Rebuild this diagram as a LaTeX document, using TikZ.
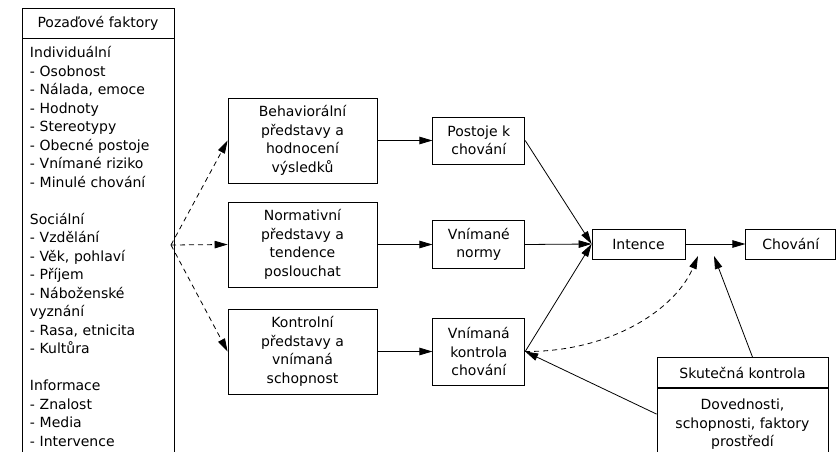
\documentclass[tikz,border=0pt]{standalone}
\usepackage{fontspec}
\setmainfont{DejaVu Sans}
\usetikzlibrary{arrows.meta,positioning}

\begin{document}
\begin{tikzpicture}[
    x=1pt, y=-1pt,
    font=\fontsize{14}{18.5}\selectfont,
    box/.style={draw, line width=0.8pt, align=center, inner sep=2pt},
    arr/.style={-{Triangle[length=13pt,width=7.5pt]}, line width=0.8pt},
    darr/.style={arr, dash pattern=on 5pt off 4pt}
  ]
  \useasboundingbox (0,0) rectangle (839,452);
  % background factors
  \node[box, minimum width=152pt, minimum height=30pt] (bg) at (98,23) {Pozaďové faktory};
  \node[box, anchor=north, align=left, text width=136pt, inner xsep=8pt, inner ysep=8pt] (bgbody) at (bg.south)
    {Individuální\\- Osobnost\\- Nálada, emoce\\- Hodnoty\\- Stereotypy\\- Obecné postoje\\- Vnímané riziko\\- Minulé chování\\[18.5pt]
     Sociální\\- Vzdělání\\- Věk, pohlaví\\- Příjem\\- Náboženské\\vyznání\\- Rasa, etnicita\\- Kultůra\\[18.5pt]
     Informace\\- Znalost\\- Media\\- Intervence};
  \coordinate (fork) at (171,245);
  % beliefs
  \node[box, minimum width=149pt, minimum height=85pt] (behav) at (302.5,140.5) {Behaviorální\\představy a\\hodnocení\\výsledků};
  \node[box, minimum width=149pt, minimum height=85pt] (norm) at (302.5,244.5) {Normativní\\představy a\\tendence\\poslouchat};
  \node[box, minimum width=149pt, minimum height=85pt] (kontr) at (302.5,351.5) {Kontrolní\\představy a\\vnímaná\\schopnost};
  % constructs
  \node[box, minimum width=92pt, minimum height=47pt, right=55pt of behav] (postoje) {Postoje k\\chování};
  \node[box, minimum width=92pt, minimum height=48pt, right=55pt of norm] (normy) {Vnímané\\normy};
  \node[box, minimum width=92pt, minimum height=67pt, right=55pt of kontr] (kontrola) {Vnímaná\\kontrola\\chování};
  \node[box, minimum width=93pt, minimum height=30pt] (intence) at (638.5,244) {Intence};
  \node[box, minimum width=90pt, minimum height=30pt, right=60pt of intence] (chovani) {Chování};
  \coordinate (dtip) at (698,256);
  \coordinate (stip) at (714,256);
  % actual control
  \node[box, minimum width=171pt, minimum height=30pt] (skut) at (742.5,372.5) {Skutečná kontrola};
  \node[box, anchor=north, minimum width=171pt, text depth=14pt, inner ysep=11pt] (skutbody) at (skut.south) {Dovednosti,\\schopnosti, faktory\\prostředí};

  \draw[darr] (fork) -- (behav.west);
  \draw[darr] (fork) -- (norm.west);
  \draw[darr] (fork) -- (kontr.west);
  \draw[arr] (behav) -- (postoje);
  \draw[arr] (norm) -- (normy);
  \draw[arr] (kontr) -- (kontrola);
  \draw[arr] (postoje.east) -- (intence.west);
  \draw[arr] (normy.east) -- (intence.west);
  \draw[arr] (kontrola.east) -- (intence.west);
  \draw[arr] (intence) -- (chovani);
  \draw[darr] (kontrola.east) .. controls (610,352) and (675,310) .. (dtip);
  \draw[arr] ([xshift=10pt]skut.north) -- (stip);
  \draw[arr] ([yshift=16pt]skutbody.west) -- (kontrola.east);
\end{tikzpicture}
\end{document}
